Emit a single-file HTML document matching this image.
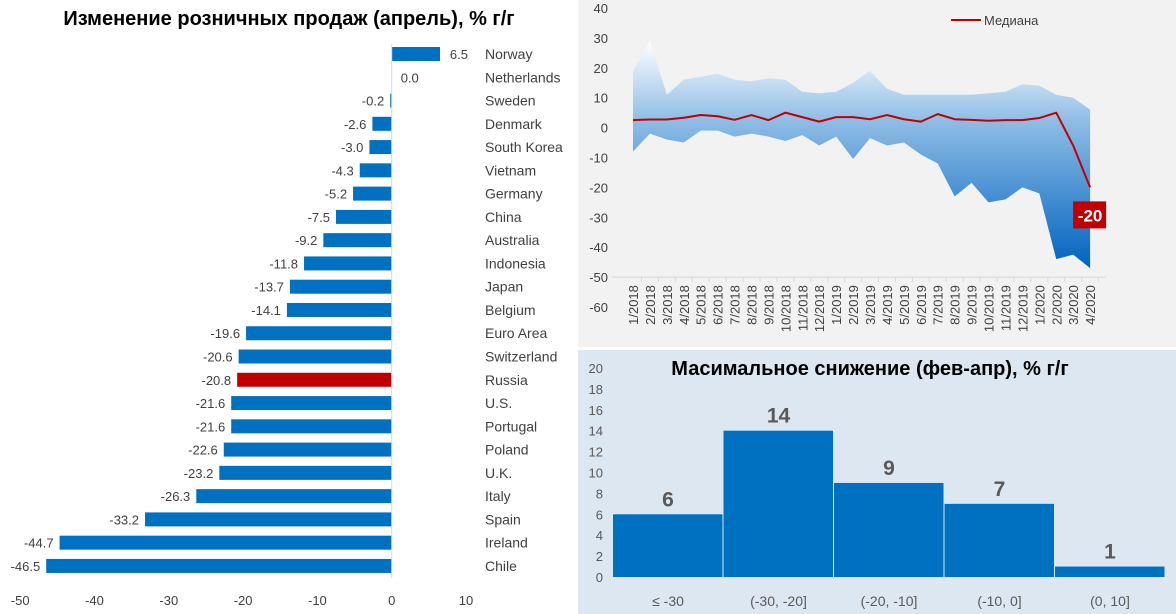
<!DOCTYPE html>
<html><head><meta charset="utf-8">
<style>
body{margin:0;width:1176px;height:614px;overflow:hidden;background:#fff;font-family:"Liberation Sans","Noto Sans CJK SC",sans-serif;}
svg{position:absolute;left:0;top:0;}
text{font-family:"Liberation Sans","Noto Sans CJK SC",sans-serif;}
</style></head>
<body>
<svg id="s" width="1176" height="614" xmlns="http://www.w3.org/2000/svg">
<rect x="0" y="0" width="578" height="614" fill="#ffffff"/>
<rect x="578" y="0" width="598" height="347" fill="#f2f2f2"/>
<rect x="578" y="350" width="598" height="264" fill="#dde7f1"/>
<defs><linearGradient id="g" x1="0" y1="0" x2="0" y2="1" gradientUnits="objectBoundingBox">
<stop offset="0" stop-color="#ffffff"/><stop offset="0.35" stop-color="#8fbde6"/><stop offset="1" stop-color="#0063be"/></linearGradient></defs>
<text x="289" y="25" text-anchor="middle" font-size="20" font-weight="bold" fill="#000">Изменение розничных продаж (апрель), % г/г</text>
<text x="870" y="375" text-anchor="middle" font-size="20" font-weight="bold" fill="#000">Масимальное снижение (фев-апр), % г/г</text>
<g id="left"></g><g id="top"></g><g id="bot"></g>
</svg>
<script>
const countries=["Norway","Netherlands","Sweden","Denmark","South Korea","Vietnam","Germany","China","Australia","Indonesia","Japan","Belgium","Euro Area","Switzerland","Russia","U.S.","Portugal","Poland","U.K.","Italy","Spain","Ireland","Chile"];
const salesValues=[6.5,0.0,-0.2,-2.6,-3.0,-4.3,-5.2,-7.5,-9.2,-11.8,-13.7,-14.1,-19.6,-20.6,-20.8,-21.6,-21.6,-22.6,-23.2,-26.3,-33.2,-44.7,-46.5];
const leftTicks=[-50,-40,-30,-20,-10,0,10];
const months=["1/2018","2/2018","3/2018","4/2018","5/2018","6/2018","7/2018","8/2018","9/2018","10/2018","11/2018","12/2018","1/2019","2/2019","3/2019","4/2019","5/2019","6/2019","7/2019","8/2019","9/2019","10/2019","11/2019","12/2019","1/2020","2/2020","3/2020","4/2020"];
const upper=[19,29,11,16,17,18,16,15.5,16.5,16,12,11.5,12,15,19,13,11,11,11,11,11,11.5,12,14.5,14,11,10,6];
const lower=[-8,-2,-4,-5,-1,-1,-3,-2,-3,-4.5,-2.5,-6,-3,-10.5,-3.5,-6,-5,-9,-12,-23,-18.5,-25,-24,-20,-22,-44,-42.5,-47];
const median=[2.5,2.7,2.7,3.3,4.2,3.8,2.6,4.2,2.5,5,3.5,2,3.5,3.5,2.8,4.2,2.8,2,4.5,2.8,2.6,2.3,2.5,2.5,3.2,5,-6,-20];
const topTicks=[40,30,20,10,0,-10,-20,-30,-40,-50,-60];
const bins=["≤ -30","(-30, -20]","(-20, -10]","(-10, 0]","(0, 10]"];
const counts=[6,14,9,7,1];
const histTicks=[0,2,4,6,8,10,12,14,16,18,20];

const NS="http://www.w3.org/2000/svg";
function mk(p,tag,a,txt){const e=document.createElementNS(NS,tag);for(const k in a)e.setAttribute(k,a[k]);if(txt!==undefined)e.textContent=txt;p.appendChild(e);return e;}

// left chart
const L=document.getElementById('left');
const lx=v=>391.7+(v)*7.43;
const ly=i=>54+i*23.27;
countries.forEach((c,i)=>{
  const v=salesValues[i];const x0=lx(0),x1=lx(v);
  const r=mk(L,'rect',{x:Math.min(x0,x1),y:ly(i)-7,width:Math.abs(x1-x0),height:14,fill:c==="Russia"?"#c00000":"#0070c0"});
  
  
  const t=v>0?mk(L,'text',{x:x1+28,y:ly(i)+5,'text-anchor':'end','font-size':13,fill:'#404040'},v.toFixed(1))
            :v===0?mk(L,'text',{x:x0+9,y:ly(i)+5,'font-size':13,fill:'#404040'},v.toFixed(1))
            :mk(L,'text',{x:x1-6,y:ly(i)+5,'text-anchor':'end','font-size':13,fill:'#404040'},v.toFixed(1));
  
  
  const n=mk(L,'text',{x:485,y:ly(i)+5,'font-size':14,fill:'#404040'},c);
  
  
});
const zl=mk(L,'line',{x1:lx(0),x2:lx(0),y1:44,y2:578,stroke:'#d9d9d9'});


leftTicks.forEach(v=>{const t=mk(L,'text',{x:lx(v),y:605,'text-anchor':'middle','font-size':13,fill:'#404040'},v);
  
  });

// top-right chart
const T=document.getElementById('top');
const tx=i=>633+i*16.93;
const ty=v=>127.6-v*2.99;
let d='M'+tx(0)+','+ty(upper[0]);
upper.forEach((v,i)=>d+=' L'+tx(i)+','+ty(v));
for(let i=lower.length-1;i>=0;i--)d+=' L'+tx(i)+','+ty(lower[i]);
const area=mk(T,'path',{d:d+'Z',fill:'url(#g)'});


const ax=mk(T,'line',{x1:612,x2:1106,y1:ty(-50),y2:ty(-50),stroke:'#d9d9d9'});


months.forEach((m,i)=>{
  const tk=mk(T,'line',{x1:tx(i)+8.5,x2:tx(i)+8.5,y1:ty(-50),y2:ty(-50)+5,stroke:'#d9d9d9'});
  
  
  const t=mk(T,'text',{x:0,y:0,'text-anchor':'end','font-size':13,fill:'#404040',transform:`translate(${tx(i)+5},${ty(-50)+8}) rotate(-90)`},m);
  
  
});
topTicks.forEach(v=>{const t=mk(T,'text',{x:608,y:ty(v)+5,'text-anchor':'end','font-size':13,fill:'#404040'},v);
  
  });
let md='';median.forEach((v,i)=>md+=(i?' L':'M')+tx(i)+','+ty(v));
const ml=mk(T,'path',{d:md,fill:'none',stroke:'#c00000','stroke-width':2,'stroke-linejoin':'round'});


const last=median.length-1;
const lb=mk(T,'rect',{x:tx(last)-17,y:ty(median[last])+14,width:33,height:27,fill:'#c00000'});


const lt=mk(T,'text',{x:tx(last),y:ty(median[last])+34,'text-anchor':'middle','font-size':17,'font-weight':'bold',fill:'#fff'},median[last]);


const lg=mk(T,'line',{x1:951,x2:981,y1:20,y2:20,stroke:'#c00000','stroke-width':2});


const lgt=mk(T,'text',{x:984,y:25,'font-size':13,fill:'#404040'},'Медиана');



// histogram
const B=document.getElementById('bot');
const hy=v=>577-v*10.45;
const bx=i=>613+i*110.5;
histTicks.forEach(v=>{const t=mk(B,'text',{x:603,y:hy(v)+5,'text-anchor':'end','font-size':13,fill:'#595959'},v);
  
  });
bins.forEach((b,i)=>{
  const r=mk(B,'rect',{x:bx(i),y:hy(counts[i]),width:109.5,height:hy(0)-hy(counts[i]),fill:'#0070c0'});
  
  
  const t=mk(B,'text',{x:bx(i)+55,y:hy(counts[i])-8,'text-anchor':'middle','font-size':21,'font-weight':'bold',fill:'#595959'},counts[i]);
  
  
  const c=mk(B,'text',{x:bx(i)+55,y:606,'text-anchor':'middle','font-size':14,fill:'#595959'},b);
  
  
});
</script>
</body></html>
